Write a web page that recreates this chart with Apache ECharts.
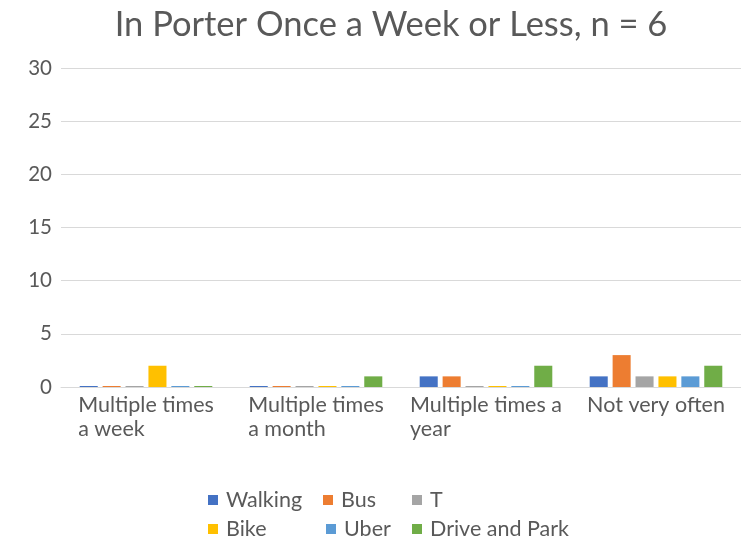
<!DOCTYPE html>
<html>
<head>
<meta charset="utf-8">
<script src="https://cdn.jsdelivr.net/npm/echarts@6/dist/echarts.min.js"></script>
<style>
  html, body { margin: 0; padding: 0; background: #fff; }
  #chart { width: 741px; height: 539px; }
</style>
</head>
<body>
<div id="chart"></div>
<script>
// categories (line breaks as in the picture)
const categories = ['Multiple times\na week', 'Multiple times\na month', 'Multiple times a\nyear', 'Not very often'];
const seriesNames = ['Walking', 'Bus', 'T', 'Bike', 'Uber', 'Drive and Park'];
const walking = [0, 0, 1, 1];
const bus = [0, 0, 1, 3];
const tram = [0, 0, 0, 1];
const bike = [2, 0, 0, 1];
const uber = [0, 0, 0, 1];
const drivePark = [0, 1, 2, 2];
const colors = ['#4472C4', '#ED7D31', '#A5A5A5', '#FFC000', '#5B9BD5', '#70AD47'];

const values = [walking, bus, tram, bike, uber, drivePark];
const font = 'Lato, "Open Sans", sans-serif';
const grey = '#595959';

const myChart = echarts.init(document.getElementById('chart'));

// one legend per entry, laid out as the 3 x 2 grid of the picture
const legendLeft = [203, 318, 407, 203, 321, 407];
const legendTop = [484, 484, 484, 513, 513, 513];
const legends = seriesNames.map(function (name, i) {
  return {
    data: [name],
    left: legendLeft[i],
    top: legendTop[i],
    itemWidth: 10,
    itemHeight: 10,
    icon: 'rect',
    textStyle: {fontSize: 21.5, color: grey, fontFamily: font, padding: [0, 0, 0, 3]}
  };
});

const option = {
  color: colors,
  title: {
    text: 'In Porter Once a Week or Less, n = 6',
    left: 386,
    textAlign: 'center',
    top: 2,
    textStyle: {fontSize: 34.5, fontWeight: 'normal', color: grey, fontFamily: font}
  },
  legend: legends,
  grid: {
    left: 61,
    right: 0,
    top: 68,
    bottom: 152
  },
  xAxis: {
    type: 'category',
    data: categories,
    axisTick: {show: false},
    axisLine: {lineStyle: {color: '#D9D9D9', width: 1}},
    axisLabel: {
      margin: 6,
      interval: 0,
      formatter: function (v) {
        return v.split('\n').map(function (s) { return '{a|' + s + '}'; }).join('\n');
      },
      rich: {
        a: {align: 'left', fontSize: 21.5, lineHeight: 24, color: grey, fontFamily: font}
      }
    }
  },
  yAxis: {
    type: 'value',
    min: 0,
    max: 30,
    interval: 5,
    axisLine: {show: false},
    axisTick: {show: false},
    splitLine: {lineStyle: {color: '#D9D9D9', width: 1}},
    axisLabel: {margin: 9, fontSize: 20.5, color: grey, fontFamily: font}
  },
  series: seriesNames.map(function (name, i) {
    return {
      name: name,
      type: 'bar',
      data: values[i],
      barGap: '27%',
      barCategoryGap: '22%',
      barMinHeight: 1,
      itemStyle: {color: colors[i]}
    };
  })
};

myChart.setOption(option);
</script>
</body>
</html>
